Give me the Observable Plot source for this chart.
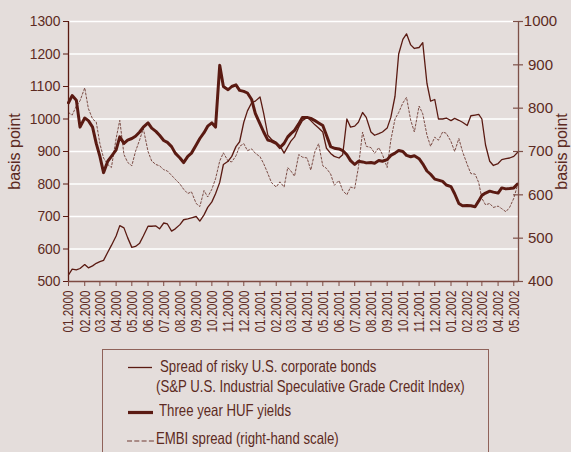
<!DOCTYPE html>
<html>
<head>
<meta charset="utf-8">
<script src="https://cdn.jsdelivr.net/npm/d3@7"></script>
<script src="https://cdn.jsdelivr.net/npm/@observablehq/plot@0.6"></script>
<style>
  html, body { margin: 0; padding: 0; background: #e4dddb; }
  #wrap { position: relative; width: 571px; height: 452px; overflow: hidden; background: #e4dddb;
          font-family: "Liberation Sans", Arial, sans-serif; color: #5c2a22; }
  #chart { position: absolute; left: 0; top: 0; }
  #legend { position: absolute; left: 102px; top: 349px; width: 387px; height: 130px; border: 1px solid #8f625a; box-sizing: border-box; }
  .lt { position: absolute; font-size: 16.5px; line-height: 20px; height: 20px; white-space: nowrap;
        transform: scaleX(0.8); transform-origin: 0 50%; }
  #samples { position: absolute; left: 0; top: 0; }
</style>
</head>
<body>
<div id="wrap">
  <div id="chart"></div>
  <div id="legend"></div>
  <svg id="samples" width="571" height="452"></svg>
  <div class="lt" style="left:160px; top:356px">Spread of risky U.S. corporate bonds</div>
  <div class="lt" style="left:156px; top:376px">(S&amp;P U.S. Industrial Speculative Grade Credit Index)</div>
  <div class="lt" style="left:159px; top:400px">Three year HUF yields</div>
  <div class="lt" style="left:156px; top:428px">EMBI spread (right-hand scale)</div>
</div>
<script>
// ---- tick labels ----
const monthLabels = ["01.2000","02.2000","03.2000","04.2000","05.2000","06.2000","07.2000","08.2000","09.2000","10.2000","11.2000","12.2000",
  "01.2001","02.2001","03.2001","04.2001","05.2001","06.2001","07.2001","08.2001","09.2001","10.2001","11.2001","12.2001",
  "01.2002","02.2002","03.2002","04.2002","05.2002"];
const leftTicks = [500, 600, 700, 800, 900, 1000, 1100, 1200, 1300];
const rightTicks = [400, 500, 600, 700, 800, 900, 1000];

// ---- observation dates ----
const sampleDates = [
 "2000-01-01","2000-01-08","2000-01-16","2000-01-23","2000-02-01","2000-02-08","2000-02-16","2000-02-23",
 "2000-03-01","2000-03-08","2000-03-16","2000-03-23","2000-04-01","2000-04-08","2000-04-16","2000-04-23",
 "2000-05-01","2000-05-08","2000-05-16","2000-05-23","2000-06-01","2000-06-08","2000-06-16","2000-06-23",
 "2000-07-01","2000-07-08","2000-07-16","2000-07-23","2000-08-01","2000-08-08","2000-08-16","2000-08-23",
 "2000-09-01","2000-09-08","2000-09-16","2000-09-23","2000-10-01","2000-10-08","2000-10-16","2000-10-23",
 "2000-11-01","2000-11-08","2000-11-16","2000-11-23","2000-12-01","2000-12-08","2000-12-16","2000-12-23",
 "2001-01-01","2001-01-08","2001-01-16","2001-01-23","2001-02-01","2001-02-08","2001-02-16","2001-02-23",
 "2001-03-01","2001-03-08","2001-03-16","2001-03-23","2001-04-01","2001-04-08","2001-04-16","2001-04-23",
 "2001-05-01","2001-05-08","2001-05-16","2001-05-23","2001-06-01","2001-06-08","2001-06-16","2001-06-23",
 "2001-07-01","2001-07-08","2001-07-16","2001-07-23","2001-08-01","2001-08-08","2001-08-16","2001-08-23",
 "2001-09-01","2001-09-08","2001-09-16","2001-09-23","2001-10-01","2001-10-08","2001-10-16","2001-10-23",
 "2001-11-01","2001-11-08","2001-11-16","2001-11-23","2001-12-01","2001-12-08","2001-12-16","2001-12-23",
 "2002-01-01","2002-01-08","2002-01-16","2002-01-23","2002-02-01","2002-02-08","2002-02-16","2002-02-23",
 "2002-03-01","2002-03-08","2002-03-16","2002-03-23","2002-04-01","2002-04-08","2002-04-16","2002-04-23",
 "2002-05-01","2002-05-08"];

// ---- series (basis points) ----
// Spread of risky U.S. corporate bonds (left scale)
const spread = [
 520,538,536,540,552,542,548,556, 561,565,590,611,640,672,665,635,
 605,608,618,640,670,670,671,662, 680,677,655,662,675,690,693,696,
 700,686,705,728,745,770,805,860, 870,885,915,930,990,1025,1050,1055,
 1068,1017,950,937,928,918,895,915, 932,945,975,995,1005,995,982,972,
 960,910,894,885,880,890,1000,975, 978,990,1020,1005,960,950,955,960,
 972,1005,1070,1200,1245,1262,1228,1217, 1220,1235,1110,1055,1060,1000,1000,1003,
 995,1002,996,990,980,1010,1012,1014, 1000,920,870,857,863,875,878,880,
 885,897];
// Three year HUF yields (left scale)
const huf = [
 1050,1072,1058,975,1003,995,975,925, 885,835,870,885,905,945,925,935,
 940,947,960,975,988,972,962,950, 934,928,915,895,880,866,885,895,
 920,940,958,978,988,975,1165,1100, 1090,1100,1105,1088,1085,1080,1060,1017,
 985,960,935,932,925,912,925,945, 955,965,985,1005,1005,1002,995,988,
 980,950,915,910,908,903,890,872, 860,870,868,865,866,864,872,870,
 875,888,895,903,900,888,884,887, 878,862,840,830,815,812,808,797,
 792,770,740,733,734,733,730,748, 765,772,778,775,772,788,785,786,
 788,800];
// EMBI spread (right-hand scale)
const embi = [
 790,784,805,817,847,799,775,768, 718,685,670,663,730,772,693,675,
 667,700,727,753,700,678,670,667, 658,655,645,636,625,613,603,607,
 580,573,610,595,613,637,678,697, 678,676,690,712,718,702,706,696,
 688,672,649,628,618,630,618,663, 655,643,693,687,685,657,700,718,
 667,661,648,622,633,610,600,618, 615,663,745,712,709,696,709,693,
 663,726,775,790,812,825,772,745, 805,787,738,712,733,726,745,742,
 723,700,730,700,670,649,648,628, 592,577,580,571,574,568,561,571,
 592,622];

// ---- build ----
const parseDate = d3.utcParse("%Y-%m-%d");
const toLeft = v => 500 + (v - 400) * 800 / 600; // right scale -> left scale
const data = sampleDates.map((s, i) => ({date: parseDate(s), spread: spread[i], huf: huf[i], embi: embi[i]}));
const monthDates = monthLabels.map(s => new Date(Date.UTC(+s.slice(3), +s.slice(0, 2) - 1, 1)));
const labelByTime = new Map(monthDates.map((d, i) => [+d, monthLabels[i]]));
const xMin = monthDates[0];
const xMax = new Date(Date.UTC(2002, 4, 10));

const ink = "#5a1a12";
const txt = "#5c2a22";
const font = '"Liberation Sans", Arial, sans-serif';

const chart = Plot.plot({
  width: 571,
  height: 345,
  marginLeft: 68,
  marginRight: 53,
  marginTop: 21,
  marginBottom: 64,
  style: {background: "transparent", color: txt, fontFamily: font, overflow: "visible"},
  x: {type: "utc", domain: [xMin, xMax]},
  y: {domain: [500, 1300]},
  marks: [
    Plot.gridY(leftTicks.filter(d => d > 500), {stroke: "#ffffff", strokeOpacity: 1, strokeWidth: 1.6}),
    Plot.line(data, {x: "date", y: d => toLeft(d.embi), stroke: "#7b4c45", strokeWidth: 1, strokeDasharray: "2,2"}),
    Plot.line(data, {x: "date", y: "spread", stroke: ink, strokeWidth: 1.3}),
    Plot.line(data, {x: "date", y: "huf", stroke: ink, strokeWidth: 3, strokeLinejoin: "round"}),
    // axis lines
    Plot.ruleX([xMin], {y1: 500, y2: 1300, stroke: ink, strokeWidth: 1.3}),
    Plot.ruleX([xMax], {y1: 500, y2: 1300, stroke: "#7d5048", strokeWidth: 1.3}),
    Plot.ruleY([500], {x1: xMin, x2: xMax, stroke: "#7d4a42", strokeWidth: 1.3}),
    // left axis
    Plot.axisY(leftTicks, {anchor: "left", tickSize: 5, tickPadding: 3, label: null, fontSize: 15, stroke: ink, tickFormat: d => String(d)}),
    // right axis (EMBI scale)
    Plot.ruleY(rightTicks.map(toLeft), {x1: xMax, x2: xMax, insetLeft: -5, insetRight: -5, stroke: "#7d5048", strokeWidth: 1.2}),
    Plot.text(rightTicks, {x: xMax, y: d => toLeft(d), dx: 22, text: d => String(d), textAnchor: "middle", fontSize: 15, fill: txt, ariaLabel: "right tick label"}),
    // x axis
    Plot.axisX(monthDates, {anchor: "bottom", tickSize: 5, tickPadding: 4, tickRotate: -90, tickFormat: d => labelByTime.get(+d), label: null, fontSize: 15, stroke: "#7d4a42"}),
    // axis titles
    Plot.text(["basis point"], {frameAnchor: "left", dx: -54, rotate: -90, textAnchor: "middle", lineAnchor: "middle", fontSize: 16, fill: txt}),
    Plot.text(["basis point"], {frameAnchor: "right", dx: 43, rotate: -90, textAnchor: "middle", lineAnchor: "middle", fontSize: 16, fill: txt})
  ]
});
document.getElementById("chart").appendChild(chart);

// condensed look of the tick labels (the original uses a narrow face)
const svg = d3.select(chart);
svg.selectAll("g[aria-label='x-axis tick label'] text").attr("textLength", 42).attr("lengthAdjust", "spacingAndGlyphs");
svg.selectAll("g[aria-label='y-axis tick label'] text, g[aria-label='right tick label'] text").each(function () {
  const n = this.textContent.length;
  d3.select(this).attr("textLength", n * 7.7).attr("lengthAdjust", "spacingAndGlyphs");
});

// legend samples
const s = d3.select("#samples");
s.append("line").attr("x1", 128).attr("x2", 152).attr("y1", 367.5).attr("y2", 367.5).attr("stroke", ink).attr("stroke-width", 1.3);
s.append("line").attr("x1", 128).attr("x2", 153).attr("y1", 412.5).attr("y2", 412.5).attr("stroke", ink).attr("stroke-width", 3.2);
s.append("line").attr("x1", 127).attr("x2", 154).attr("y1", 441).attr("y2", 441).attr("stroke", "#6e3a32").attr("stroke-width", 1.2).attr("stroke-dasharray", "5,2.3");
</script>
</body>
</html>
